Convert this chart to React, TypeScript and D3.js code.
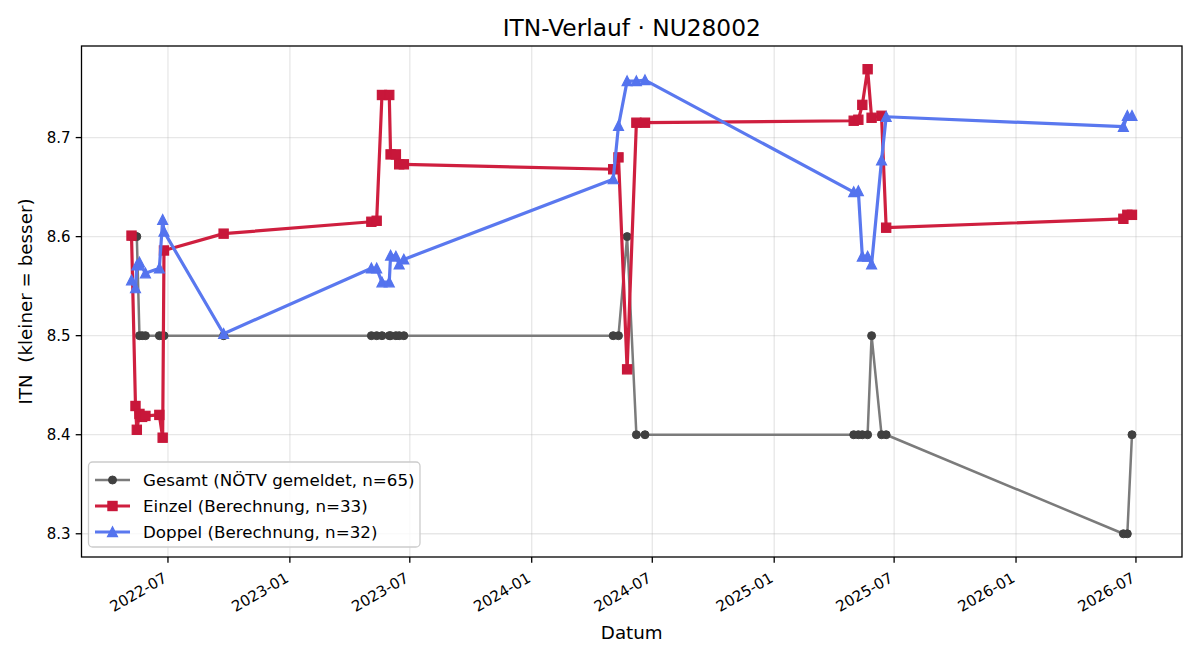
import React from 'react'
import * as d3 from 'd3'

// ITN history per match date
const einzelDates = [
  '2022-05-07', '2022-05-13', '2022-05-15', '2022-05-19', '2022-05-23', '2022-05-28', '2022-06-18', '2022-06-23', '2022-06-25', '2022-09-23',
  '2023-05-04', '2023-05-12', '2023-05-20', '2023-05-31', '2023-06-02', '2023-06-10', '2023-06-15', '2023-06-22',
  '2024-05-03', '2024-05-11', '2024-05-24', '2024-06-07', '2024-06-20',
  '2025-05-01', '2025-05-08', '2025-05-14', '2025-05-22', '2025-05-28', '2025-06-12', '2025-06-19',
  '2026-06-12', '2026-06-18', '2026-06-25',
]
const einzelItn = [
  8.601, 8.429, 8.405, 8.421, 8.418, 8.419, 8.42, 8.397, 8.586, 8.603,
  8.615, 8.616, 8.743, 8.743, 8.683, 8.683, 8.673, 8.673,
  8.668, 8.68, 8.466, 8.715, 8.715,
  8.717, 8.718, 8.733, 8.769, 8.72, 8.722, 8.609,
  8.618, 8.622, 8.622,
]

const doppelDates = [
  '2022-05-07', '2022-05-13', '2022-05-15', '2022-05-19', '2022-05-28', '2022-06-18', '2022-06-23', '2022-06-25', '2022-09-23',
  '2023-05-04', '2023-05-12', '2023-05-20', '2023-05-31', '2023-06-02', '2023-06-10', '2023-06-15', '2023-06-22',
  '2024-05-03', '2024-05-11', '2024-05-24', '2024-06-07', '2024-06-20',
  '2025-05-01', '2025-05-08', '2025-05-14', '2025-05-22', '2025-05-28', '2025-06-12', '2025-06-19',
  '2026-06-12', '2026-06-18', '2026-06-25',
]
const doppelItn = [
  8.556, 8.548, 8.571, 8.574, 8.563, 8.568, 8.617, 8.605, 8.502,
  8.568, 8.568, 8.554, 8.554, 8.581, 8.58, 8.572, 8.577,
  8.658, 8.712, 8.757, 8.757, 8.758,
  8.645, 8.646, 8.58, 8.58, 8.572, 8.677, 8.721,
  8.711, 8.722, 8.722,
]

const gesamtDates = einzelDates
const gesamtItn = [
  8.6, 8.6, 8.6, 8.5, 8.5, 8.5, 8.5, 8.5, 8.5, 8.5,
  8.5, 8.5, 8.5, 8.5, 8.5, 8.5, 8.5, 8.5,
  8.5, 8.5, 8.6, 8.4, 8.4,
  8.4, 8.4, 8.4, 8.4, 8.5, 8.4, 8.4,
  8.3, 8.3, 8.4,
]

const W = 1200
const H = 660
const plot = { left: 81.5, right: 1182, top: 46, bottom: 557 }
const FONT = "'DejaVu Sans', sans-serif"

type Marker = 'circle' | 'square' | 'triangle'
type Pt = { date: Date; value: number }
type Series = { label: string; stroke: string; fill: string; width: number; marker: Marker; points: Pt[] }

const parse = d3.timeParse('%Y-%m-%d')
const toPoints = (dates: string[], values: number[]): Pt[] =>
  dates.map((d, i) => ({ date: parse(d) as Date, value: values[i] }))

const series: Series[] = [
  { label: 'Gesamt (NÖTV gemeldet, n=65)', stroke: '#7b7b7b', fill: '#404040', width: 2.5, marker: 'circle', points: toPoints(gesamtDates, gesamtItn) },
  { label: 'Einzel (Berechnung, n=33)', stroke: '#cf1f3f', fill: '#c8173a', width: 3.2, marker: 'square', points: toPoints(einzelDates, einzelItn) },
  { label: 'Doppel (Berechnung, n=32)', stroke: '#5a78ef', fill: '#5473ee', width: 3.2, marker: 'triangle', points: toPoints(doppelDates, doppelItn) },
]

function MarkerShape({ kind, x, y, fill }: { kind: Marker; x: number; y: number; fill: string }) {
  if (kind === 'circle') return <circle cx={x} cy={y} r={4} fill={fill} stroke={fill} strokeWidth={1} />
  if (kind === 'square') return <rect x={x - 4.6} y={y - 4.6} width={9.2} height={9.2} fill={fill} stroke={fill} strokeWidth={1.2} />
  return <path d={`M${x},${y - 5.2}L${x + 5},${y + 4.6}L${x - 5},${y + 4.6}Z`} fill={fill} stroke={fill} strokeWidth={1.2} strokeLinejoin="miter" />
}

export default function App() {
  const all = series.flatMap((s) => s.points)
  const [d0, d1] = d3.extent(all, (p) => +p.date) as [number, number]
  const dPad = (d1 - d0) * 0.05
  const x = d3.scaleTime().domain([new Date(d0 - dPad), new Date(d1 + dPad)]).range([plot.left, plot.right])
  const [v0, v1] = d3.extent(all, (p) => p.value) as [number, number]
  const vPad = (v1 - v0) * 0.05
  const y = d3.scaleLinear().domain([v0 - vPad, v1 + vPad]).range([plot.bottom, plot.top])

  const xTicks = x.ticks(d3.timeMonth.every(6) as d3.TimeInterval)
  const yTicks = y.ticks(5)
  const fmtX = d3.timeFormat('%Y-%m')
  const fmtY = d3.format('.1f')

  const line = d3.line<Pt>().x((p) => x(p.date)).y((p) => y(p.value))

  const legend = { x: 88.5, y: 462, w: 331.5, h: 85, row0: 480, rowGap: 26 }

  return (
    <svg width={W} height={H} style={{ position: 'absolute', left: 0, top: 0, background: '#fff' }} fontFamily={FONT}>
      <rect width={W} height={H} fill="#fff" />

      {/* grid */}
      <g stroke="#b0b0b0" strokeOpacity={0.3} strokeWidth={1.3}>
        {xTicks.map((t) => (
          <line key={+t} x1={x(t)} x2={x(t)} y1={plot.top} y2={plot.bottom} />
        ))}
        {yTicks.map((t) => (
          <line key={t} x1={plot.left} x2={plot.right} y1={y(t)} y2={y(t)} />
        ))}
      </g>

      {/* series */}
      {series.map((s) => (
        <g key={s.label}>
          <path d={line(s.points) || ''} fill="none" stroke={s.stroke} strokeWidth={s.width} strokeLinejoin="round" />
          {s.points.map((p, i) => (
            <MarkerShape key={i} kind={s.marker} x={x(p.date)} y={y(p.value)} fill={s.fill} />
          ))}
        </g>
      ))}

      {/* frame */}
      <rect x={plot.left} y={plot.top} width={plot.right - plot.left} height={plot.bottom - plot.top} fill="none" stroke="#000" strokeWidth={1.3} />

      {/* x axis */}
      <g>
        {xTicks.map((t) => (
          <g key={+t}>
            <line x1={x(t)} x2={x(t)} y1={plot.bottom} y2={plot.bottom + 5.8} stroke="#000" strokeWidth={1.3} />
            <text
              transform={`translate(${x(t)},${plot.bottom + 24}) rotate(-30)`}
              textAnchor="end"
              fontSize={15}
              fill="#000"
            >
              {fmtX(t)}
            </text>
          </g>
        ))}
        <text x={(plot.left + plot.right) / 2} y={639} textAnchor="middle" fontSize={18.3} fill="#000">
          Datum
        </text>
      </g>

      {/* y axis */}
      <g>
        {yTicks.map((t) => (
          <g key={t}>
            <line x1={plot.left - 5.8} x2={plot.left} y1={y(t)} y2={y(t)} stroke="#000" strokeWidth={1.3} />
            <text x={plot.left - 11} y={y(t)} dy="0.36em" textAnchor="end" fontSize={15} fill="#000">
              {fmtY(t)}
            </text>
          </g>
        ))}
        <text
          transform={`translate(32,${(plot.top + plot.bottom) / 2}) rotate(-90)`}
          textAnchor="middle"
          fontSize={18.3}
          fill="#000"
          style={{ whiteSpace: 'pre' }}
        >
          {'ITN  (kleiner = besser)'}
        </text>
      </g>

      {/* title */}
      <text x={(plot.left + plot.right) / 2} y={36} textAnchor="middle" fontSize={23.3} fill="#000">
        ITN-Verlauf · NU28002
      </text>

      {/* legend */}
      <g>
        <rect x={legend.x} y={legend.y} width={legend.w} height={legend.h} rx={4} fill="#fff" fillOpacity={0.8} stroke="#cccccc" strokeWidth={1.3} />
        {series.map((s, i) => {
          const cy = legend.row0 + i * legend.rowGap
          return (
            <g key={s.label}>
              <line x1={95} x2={130} y1={cy} y2={cy} stroke={s.stroke} strokeWidth={s.width} />
              <MarkerShape kind={s.marker} x={112.5} y={cy} fill={s.fill} />
              <text x={143} y={cy} dy="0.36em" fontSize={16.7} fill="#000">
                {s.label}
              </text>
            </g>
          )
        })}
      </g>
    </svg>
  )
}
